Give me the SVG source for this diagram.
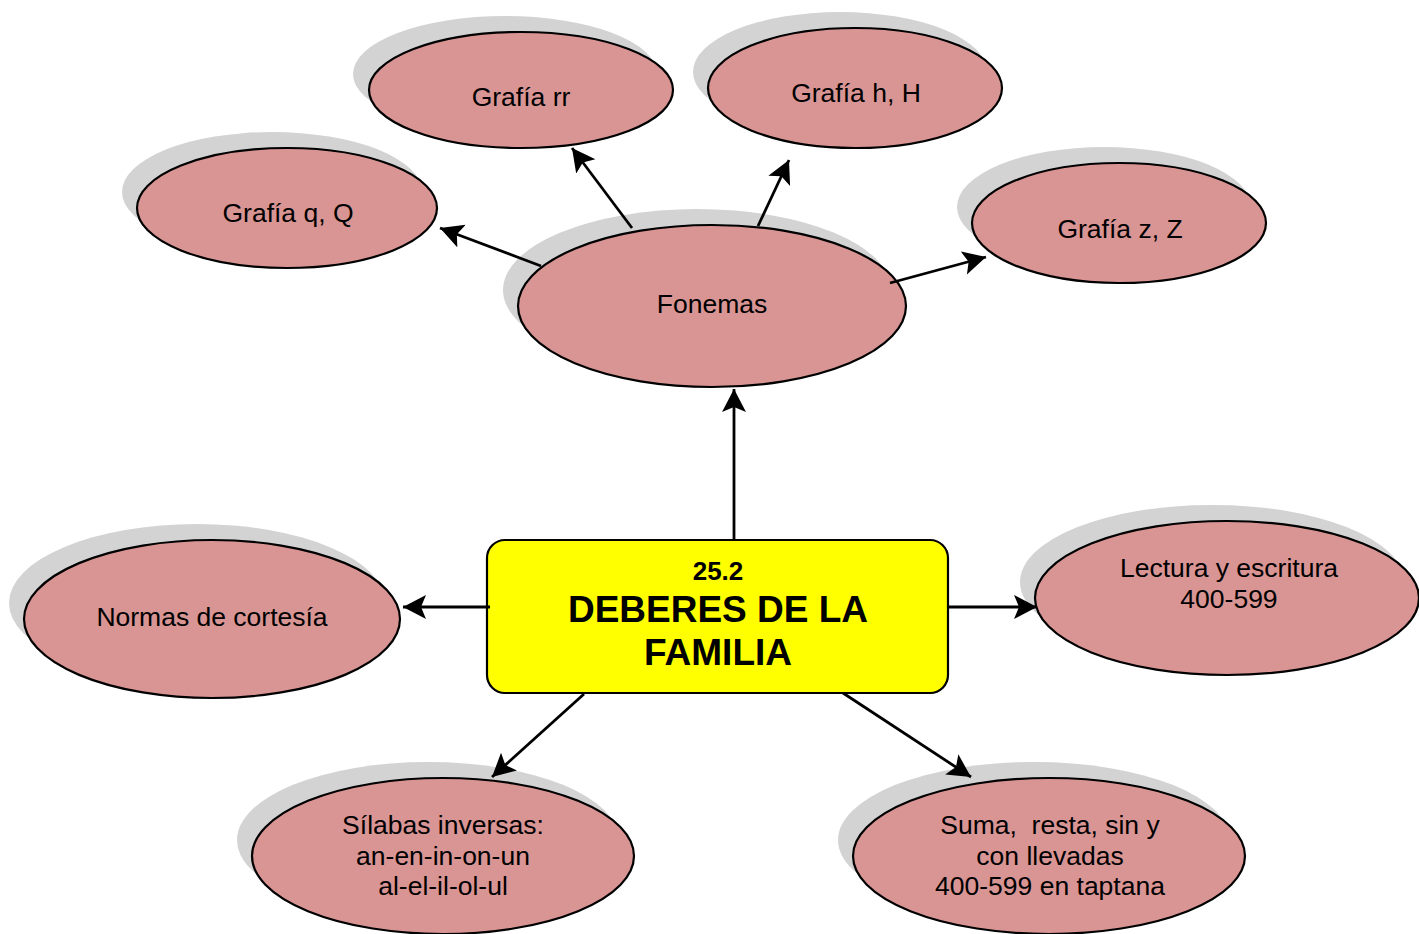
<svg xmlns="http://www.w3.org/2000/svg" width="1419" height="934" viewBox="0 0 1419 934">
<defs>
<marker id="arr" markerUnits="userSpaceOnUse" markerWidth="26" markerHeight="26" refX="23" refY="12" orient="auto" viewBox="0 0 26 26">
<path d="M0,0 L23,12 L0,24 L5,12 Z" fill="#000"/>
</marker>
</defs>
<style>
.sh{fill:#d3d3d3;stroke:none}
.el{fill:#d99594;stroke:#000;stroke-width:2.2}
.t{font-family:"Liberation Sans",Arial,sans-serif;font-size:26.5px;fill:#000;text-anchor:middle}
.tb{font-family:"Liberation Sans",Arial,sans-serif;font-weight:bold;fill:#000;text-anchor:middle}
.c{stroke:#000;stroke-width:2.8;fill:none;marker-end:url(#arr)}
</style>
<rect width="1419" height="934" fill="#fff"/>
<g id="n-grafia-rr">
<ellipse class="sh" cx="505" cy="74" rx="152" ry="58"/>
<ellipse class="el" cx="521" cy="90" rx="152" ry="58"/>
<text class="t" x="521" y="106">Grafía rr</text>
</g>
<g id="n-grafia-h">
<ellipse class="sh" cx="840" cy="72" rx="147" ry="60"/>
<ellipse class="el" cx="855" cy="88" rx="147" ry="60"/>
<text class="t" x="856" y="102">Grafía h, H</text>
</g>
<g id="n-grafia-q">
<ellipse class="sh" cx="272" cy="192" rx="150" ry="60"/>
<ellipse class="el" cx="287" cy="208" rx="150" ry="60"/>
<text class="t" x="288" y="222">Grafía q, Q</text>
</g>
<g id="n-grafia-z">
<ellipse class="sh" cx="1104" cy="207" rx="147" ry="60"/>
<ellipse class="el" cx="1119" cy="223" rx="147" ry="60"/>
<text class="t" x="1120" y="238">Grafía z, Z</text>
</g>
<g id="n-fonemas">
<ellipse class="sh" cx="697" cy="290" rx="194" ry="81"/>
<ellipse class="el" cx="712" cy="306" rx="194" ry="81"/>
<text class="t" x="712" y="313">Fonemas</text>
</g>
<g id="n-normas">
<ellipse class="sh" cx="197" cy="603" rx="188" ry="79"/>
<ellipse class="el" cx="212" cy="619" rx="188" ry="79"/>
<text class="t" x="212" y="626">Normas de cortesía</text>
</g>
<g id="n-lectura">
<ellipse class="sh" cx="1212" cy="582" rx="192" ry="77"/>
<ellipse class="el" cx="1227" cy="598" rx="192" ry="77"/>
<text class="t" x="1229" y="577">Lectura y escritura</text>
<text class="t" x="1229" y="608">400-599</text>
</g>
<g id="n-silabas">
<ellipse class="sh" cx="428" cy="840" rx="191" ry="78"/>
<ellipse class="el" cx="443" cy="856" rx="191" ry="78"/>
<text class="t" x="443" y="834">Sílabas inversas:</text>
<text class="t" x="443" y="865">an-en-in-on-un</text>
<text class="t" x="443" y="895">al-el-il-ol-ul</text>
</g>
<g id="n-suma">
<ellipse class="sh" cx="1034" cy="840" rx="196" ry="78"/>
<ellipse class="el" cx="1049" cy="856" rx="196" ry="78"/>
<text class="t" x="1050" y="834" xml:space="preserve">Suma,  resta, sin y</text>
<text class="t" x="1050" y="865">con llevadas</text>
<text class="t" x="1050" y="895">400-599 en taptana</text>
</g>
<g id="n-center">
<rect x="487" y="540" width="461" height="153" rx="18" ry="18" fill="#ffff00" stroke="#000" stroke-width="2.2"/>
<text class="tb" x="718" y="580" font-size="26">25.2</text>
<text class="tb" x="718" y="622" font-size="37">DEBERES DE LA</text>
<text class="tb" x="718" y="665" font-size="37">FAMILIA</text>
</g>
<g id="connectors">
<line class="c" x1="734" y1="540" x2="734" y2="389"/>
<line class="c" x1="541" y1="266" x2="440" y2="228"/>
<line class="c" x1="632" y1="228" x2="572" y2="148"/>
<line class="c" x1="758" y1="226" x2="789" y2="160"/>
<line class="c" x1="890" y1="283" x2="986" y2="257"/>
<line class="c" x1="490" y1="607" x2="403" y2="607"/>
<line class="c" x1="948" y1="607" x2="1037" y2="607"/>
<line class="c" x1="584" y1="694" x2="492" y2="777"/>
<line class="c" x1="843" y1="693" x2="971" y2="777"/>
</g>
</svg>
